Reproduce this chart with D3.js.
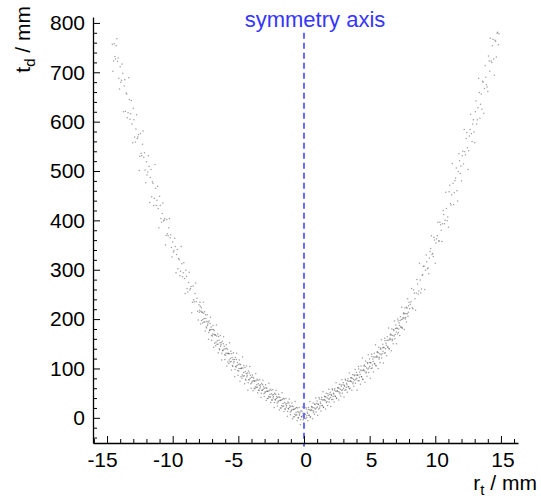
<!DOCTYPE html>
<html lang="en">
<head>
<meta charset="UTF-8">
<title>t_d vs r_t</title>
<script src="https://d3js.org/d3.v7.min.js"></script>
<style>
  body { margin: 0; background: #fff; }
  svg { font-family: "Liberation Sans", Arial, sans-serif; }
</style>
</head>
<body>
<svg width="541" height="498"></svg>
<script>
// points: [r_t (mm), t_d (mm)]
const pointsLeft = [
  [0,7],[-0.05,-4],[-0.1,4],[-0.15,13],[-0.2,2],[-0.25,-4],[-0.3,12],[-0.35,5],[-0.4,11],[-0.45,0],
  [-0.5,20],[-0.55,6],[-0.6,11],[-0.65,19],[-0.7,7],[-0.75,18],[-0.8,2],[-0.85,17],[-0.9,24],[-0.95,16],
  [-1,23],[-1.05,12],[-1.1,21],[-1.15,30],[-1.2,19],[-1.25,13],[-1.3,29],[-1.35,22],[-1.4,28],[-1.45,18],
  [-1.5,38],[-1.55,24],[-1.6,29],[-1.65,37],[-1.7,25],[-1.75,36],[-1.8,20],[-1.85,35],[-1.9,42],[-1.95,34],
  [-2,41],[-2.05,30],[-2.1,39],[-2.15,48],[-2.2,37],[-2.25,31],[-2.3,47],[-2.35,40],[-2.4,46],[-2.45,36],
  [-2.5,56],[-2.55,42],[-2.6,47],[-2.65,55],[-2.7,43],[-2.75,54],[-2.8,39],[-2.85,54],[-2.9,61],[-2.95,53],
  [-3,60],[-3.05,49],[-3.1,58],[-3.15,67],[-3.2,56],[-3.25,50],[-3.3,67],[-3.35,60],[-3.4,66],[-3.45,56],
  [-3.5,76],[-3.55,62],[-3.6,67],[-3.65,75],[-3.7,63],[-3.75,75],[-3.8,60],[-3.85,75],[-3.9,82],[-3.95,74],
  [-4,82],[-4.05,69],[-4.1,80],[-4.15,91],[-4.2,77],[-4.25,71],[-4.3,91],[-4.35,83],[-4.4,90],[-4.45,78],
  [-4.5,102],[-4.55,85],[-4.6,92],[-4.65,101],[-4.7,87],[-4.75,101],[-4.8,83],[-4.85,100],[-4.9,109],[-4.95,100],
  [-5,108],[-5.05,96],[-5.1,106],[-5.15,118],[-5.2,104],[-5.25,98],[-5.3,118],[-5.35,111],[-5.4,118],[-5.45,106],
  [-5.5,130],[-5.55,114],[-5.6,120],[-5.65,130],[-5.7,117],[-5.75,131],[-5.8,113],[-5.85,131],[-5.9,141],[-5.95,131],
  [-6,140],[-6.05,128],[-6.1,139],[-6.15,150],[-6.2,137],[-6.25,131],[-6.3,152],[-6.35,145],[-6.4,152],[-6.45,140],
  [-6.5,165],[-6.55,149],[-6.6,156],[-6.65,166],[-6.7,153],[-6.75,168],[-6.8,151],[-6.85,169],[-6.9,179],[-6.95,170],
  [-7,179],[-7.05,167],[-7.1,179],[-7.15,191],[-7.2,178],[-7.25,173],[-7.3,194],[-7.35,187],[-7.4,195],[-7.45,184],
  [-7.5,209],[-7.55,194],[-7.6,201],[-7.65,212],[-7.7,199],[-7.75,214],[-7.8,197],[-7.85,216],[-7.9,226],[-7.95,218],
  [-8,229],[-8.1,216],[-8.2,235],[-8.3,252],[-8.4,239],[-8.5,234],[-8.6,266],[-8.7,259],[-8.8,274],[-8.9,262],
  [-9,299],[-9.1,282],[-9.2,294],[-9.3,312],[-9.4,297],[-9.5,320],[-9.6,302],[-9.7,331],[-9.8,347],[-9.9,339],
  [-10,356],[-10.1,345],[-10.2,365],[-10.3,385],[-10.4,373],[-10.5,370],[-10.6,404],[-10.7,399],[-10.8,414],[-10.9,404],
  [-11,449],[-11.1,424],[-11.2,441],[-11.3,465],[-11.4,445],[-11.5,475],[-11.6,448],[-11.7,487],[-11.8,509],[-11.9,498],
  [-12,519],[-12.1,502],[-12.2,528],[-12.3,554],[-12.4,536],[-12.5,530],[-12.6,574],[-12.7,566],[-12.8,585],[-12.9,569],
  [-13,627],[-13.1,595],[-13.2,616],[-13.3,645],[-13.4,618],[-13.5,656],[-13.6,621],[-13.7,672],[-13.8,698],[-13.9,684],
  [-14,711],[-14.1,688],[-14.2,722],[-14.3,754],[-14.4,732],[-14.5,723],[-14.6,757]
];
const pointsLeft2 = [
  [-0.025,-11],[-0.075,9],[-0.125,22],[-0.175,2],[-0.225,15],[-0.275,-14],[-0.325,8],[-0.375,21],[-0.425,0],[-0.475,13],
  [-0.525,-6],[-0.575,21],[-0.625,5],[-0.675,33],[-0.725,2],[-0.775,17],[-0.825,23],[-0.875,-2],[-0.925,30],[-0.975,14],
  [-1.025,6],[-1.075,25],[-1.125,38],[-1.175,18],[-1.225,32],[-1.275,3],[-1.325,25],[-1.375,39],[-1.425,18],[-1.475,31],
  [-1.525,13],[-1.575,39],[-1.625,23],[-1.675,51],[-1.725,20],[-1.775,35],[-1.825,41],[-1.875,16],[-1.925,48],[-1.975,32],
  [-2.025,24],[-2.075,43],[-2.125,56],[-2.175,36],[-2.225,50],[-2.275,21],[-2.325,43],[-2.375,57],[-2.425,36],[-2.475,49],
  [-2.525,31],[-2.575,58],[-2.625,42],[-2.675,70],[-2.725,39],[-2.775,54],[-2.825,60],[-2.875,35],[-2.925,67],[-2.975,51],
  [-3.025,43],[-3.075,63],[-3.125,76],[-3.175,56],[-3.225,70],[-3.275,41],[-3.325,63],[-3.375,77],[-3.425,56],[-3.475,69],
  [-3.525,51],[-3.575,78],[-3.625,62],[-3.675,90],[-3.725,59],[-3.775,74],[-3.825,80],[-3.875,55],[-3.925,87],[-3.975,71],
  [-4.025,60],[-4.075,86],[-4.125,104],[-4.175,77],[-4.225,95],[-4.275,56],[-4.325,86],[-4.375,105],[-4.425,76],[-4.475,94],
  [-4.525,69],[-4.575,106],[-4.625,84],[-4.675,123],[-4.725,80],[-4.775,100],[-4.825,108],[-4.875,74],[-4.925,117],[-4.975,95],
  [-5.025,86],[-5.075,112],[-5.125,131],[-5.175,103],[-5.225,122],[-5.275,83],[-5.325,114],[-5.375,132],[-5.425,104],[-5.475,122],
  [-5.525,97],[-5.575,135],[-5.625,113],[-5.675,152],[-5.725,110],[-5.775,130],[-5.825,139],[-5.875,105],[-5.925,148],[-5.975,127],
  [-6.025,118],[-6.075,145],[-6.125,164],[-6.175,136],[-6.225,155],[-6.275,117],[-6.325,148],[-6.375,167],[-6.425,138],[-6.475,157],
  [-6.525,132],[-6.575,170],[-6.625,149],[-6.675,188],[-6.725,146],[-6.775,168],[-6.825,177],[-6.875,143],[-6.925,187],[-6.975,166],
  [-7.025,157],[-7.075,184],[-7.125,204],[-7.175,177],[-7.225,196],[-7.275,159],[-7.325,190],[-7.375,209],[-7.425,182],[-7.475,201],
  [-7.525,176],[-7.575,215],[-7.625,194],[-7.675,234],[-7.725,192],[-7.775,214],[-7.825,223],[-7.875,190],[-7.925,234],[-7.975,214],
  [-8.05,198],[-8.15,242],[-8.25,273],[-8.35,235],[-8.45,267],[-8.55,213],[-8.65,262],[-8.75,295],[-8.85,255],[-8.95,287],
  [-9.05,252],[-9.15,314],[-9.25,286],[-9.35,347],[-9.45,288],[-9.55,323],[-9.65,341],[-9.75,294],[-9.85,364],[-9.95,336],
  [-10.05,326],[-10.15,371],[-10.25,404],[-10.35,369],[-10.45,402],[-10.55,350],[-10.65,401],[-10.75,435],[-10.85,396],[-10.95,430],
  [-11.05,385],[-11.15,469],[-11.25,430],[-11.35,513],[-11.45,430],[-11.55,478],[-11.65,503],[-11.75,436],[-11.85,531],[-11.95,492],
  [-12.05,476],[-12.15,537],[-12.25,581],[-12.35,531],[-12.45,576],[-12.55,501],[-12.65,569],[-12.75,614],[-12.85,559],[-12.95,604],
  [-13.05,557],[-13.15,643],[-13.25,605],[-13.35,689],[-13.45,608],[-13.55,658],[-13.65,685],[-13.75,620],[-13.85,717],[-13.95,680],
  [-14.05,666],[-14.15,729],[-14.25,768],[-14.35,727],[-14.45,758],[-14.55,702]
];
const pointsRight = [
  [0.02,2],[0.07,8],[0.12,-2],[0.17,18],[0.22,4],[0.27,9],[0.32,17],[0.37,5],[0.42,16],[0.47,1],
  [0.52,15],[0.57,22],[0.62,15],[0.67,21],[0.72,11],[0.77,20],[0.82,28],[0.87,18],[0.92,12],[0.97,29],
  [1.02,22],[1.07,28],[1.12,18],[1.17,38],[1.22,24],[1.27,29],[1.32,37],[1.37,25],[1.42,36],[1.47,21],
  [1.52,36],[1.57,43],[1.62,35],[1.67,42],[1.72,31],[1.77,40],[1.82,49],[1.87,38],[1.92,32],[1.97,48],
  [2.02,41],[2.07,47],[2.12,37],[2.17,57],[2.22,43],[2.27,48],[2.32,56],[2.37,44],[2.42,54],[2.47,39],
  [2.52,54],[2.57,61],[2.62,53],[2.67,60],[2.72,49],[2.77,58],[2.82,67],[2.87,56],[2.92,50],[2.97,67],
  [3.02,60],[3.07,66],[3.12,56],[3.17,76],[3.22,62],[3.27,67],[3.32,75],[3.37,63],[3.42,74],[3.47,59],
  [3.52,74],[3.57,81],[3.62,73],[3.67,80],[3.72,69],[3.77,78],[3.82,87],[3.87,76],[3.92,70],[3.97,87],
  [4.02,80],[4.07,87],[4.12,75],[4.17,99],[4.22,82],[4.27,88],[4.32,97],[4.37,83],[4.42,96],[4.47,78],
  [4.52,96],[4.57,105],[4.62,95],[4.67,104],[4.72,91],[4.77,101],[4.82,112],[4.87,99],[4.92,92],[4.97,112],
  [5.02,104],[5.07,112],[5.12,100],[5.17,124],[5.22,107],[5.27,114],[5.32,123],[5.37,110],[5.42,123],[5.47,106],
  [5.52,123],[5.57,133],[5.62,123],[5.67,132],[5.72,119],[5.77,130],[5.82,141],[5.87,128],[5.92,121],[5.97,142],
  [6.02,135],[6.07,143],[6.12,131],[6.17,156],[6.22,140],[6.27,147],[6.32,157],[6.37,144],[6.42,157],[6.47,140],
  [6.52,158],[6.57,168],[6.62,159],[6.67,168],[6.72,156],[6.77,167],[6.82,179],[6.87,166],[6.92,160],[6.97,181],
  [7.02,174],[7.07,182],[7.12,170],[7.17,196],[7.22,180],[7.27,187],[7.32,197],[7.37,184],[7.42,199],[7.47,182],
  [7.52,200],[7.57,211],[7.62,202],[7.67,211],[7.72,200],[7.77,211],[7.82,224],[7.87,211],[7.92,206],[7.97,227],
  [8.05,221],[8.15,235],[8.25,223],[8.35,259],[8.45,241],[8.55,253],[8.65,271],[8.75,257],[8.85,279],[8.95,261],
  [9.05,290],[9.15,307],[9.25,299],[9.35,316],[9.45,304],[9.55,324],[9.65,343],[9.75,331],[9.85,327],[9.95,360],
  [10.05,354],[10.15,369],[10.25,358],[10.35,396],[10.45,380],[10.55,393],[10.65,412],[10.75,400],[10.85,424],[10.95,407],
  [11.05,458],[11.15,434],[11.25,452],[11.35,475],[11.45,456],[11.55,486],[11.65,460],[11.75,499],[11.85,521],[11.95,510],
  [12.05,531],[12.15,514],[12.25,539],[12.35,566],[12.45,547],[12.55,541],[12.65,584],[12.75,576],[12.85,595],[12.95,579],
  [13.05,620],[13.15,595],[13.25,628],[13.35,659],[13.45,635],[13.55,625],[13.65,680],[13.75,667],[13.85,690],[13.95,670],
  [14.05,733],[14.15,702],[14.25,723],[14.35,754],[14.45,727],[14.55,765],[14.65,731],[14.75,781],[14.85,778]
];
const pointsRight2 = [
  [0.045,-15],[0.095,7],[0.145,21],[0.195,0],[0.245,12],[0.295,-6],[0.345,21],[0.395,5],[0.445,33],[0.495,2],
  [0.545,17],[0.595,23],[0.645,-2],[0.695,30],[0.745,14],[0.795,7],[0.845,27],[0.895,40],[0.945,20],[0.995,34],
  [1.045,5],[1.095,27],[1.145,41],[1.195,20],[1.245,32],[1.295,14],[1.345,41],[1.395,25],[1.445,53],[1.495,22],
  [1.545,37],[1.595,43],[1.645,18],[1.695,50],[1.745,33],[1.795,25],[1.845,45],[1.895,58],[1.945,38],[1.995,52],
  [2.045,23],[2.095,45],[2.145,59],[2.195,37],[2.245,50],[2.295,32],[2.345,59],[2.395,43],[2.445,71],[2.495,40],
  [2.545,55],[2.595,61],[2.645,36],[2.695,68],[2.745,52],[2.795,44],[2.845,64],[2.895,77],[2.945,57],[2.995,71],
  [3.045,42],[3.095,64],[3.145,78],[3.195,57],[3.245,70],[3.295,52],[3.345,79],[3.395,63],[3.445,91],[3.495,60],
  [3.545,75],[3.595,81],[3.645,56],[3.695,88],[3.745,72],[3.795,64],[3.845,85],[3.895,98],[3.945,78],[3.995,92],
  [4.045,56],[4.095,86],[4.145,104],[4.195,75],[4.245,93],[4.295,68],[4.345,105],[4.395,83],[4.445,121],[4.495,78],
  [4.545,98],[4.595,107],[4.645,72],[4.695,115],[4.745,93],[4.795,84],[4.845,110],[4.895,128],[4.945,101],[4.995,119],
  [5.045,80],[5.095,111],[5.145,129],[5.195,101],[5.245,119],[5.295,93],[5.345,131],[5.395,109],[5.445,148],[5.495,105],
  [5.545,125],[5.595,134],[5.645,100],[5.695,143],[5.745,122],[5.795,112],[5.845,139],[5.895,158],[5.945,130],[5.995,149],
  [6.045,111],[6.095,142],[6.145,161],[6.195,132],[6.245,151],[6.295,126],[6.345,164],[6.395,143],[6.445,182],[6.495,140],
  [6.545,161],[6.595,170],[6.645,136],[6.695,180],[6.745,159],[6.795,150],[6.845,177],[6.895,196],[6.945,169],[6.995,188],
  [7.045,150],[7.095,181],[7.145,200],[7.195,173],[7.245,192],[7.295,167],[7.345,205],[7.395,184],[7.445,224],[7.495,182],
  [7.545,203],[7.595,213],[7.645,179],[7.695,223],[7.745,203],[7.795,194],[7.845,222],[7.895,241],[7.945,214],[7.995,234],
  [8.1,230],[8.2,262],[8.3,221],[8.4,253],[8.5,218],[8.6,280],[8.7,251],[8.8,313],[8.9,253],
  [9,289],[9.1,307],[9.2,260],[9.3,330],[9.4,302],[9.5,292],[9.6,337],[9.7,369],[9.8,333],[9.9,366],
  [10,313],[10.1,363],[10.2,396],[10.3,358],[10.4,391],[10.5,357],[10.6,420],[10.7,393],[10.8,457],[10.9,399],
  [11,386],[11.1,471],[11.2,431],[11.3,515],[11.4,432],[11.5,481],[11.6,506],[11.7,439],[11.8,535],[11.9,495],
  [12,480],[12.1,540],[12.2,584],[12.3,533],[12.4,578],[12.5,503],[12.6,571],[12.7,615],[12.8,560],[12.9,604],
  [13,557],[13.1,642],[13.2,604],[13.3,688],[13.4,607],[13.5,656],[13.6,682],[13.7,617],[13.8,713],[13.9,675],
  [14,661],[14.1,723],[14.2,769],[14.3,720],[14.4,767],[14.5,694],[14.6,763],[14.7,779],[14.8,756]
];

const xMajor = [-15, -10, -5, 0, 5, 10, 15];
const xMinor = [-16, -14, -13, -12, -11, -9, -8, -7, -6, -4, -3, -2, -1, 1, 2, 3, 4, 6, 7, 8, 9, 11, 12, 13, 14, 16];
const yMajor = [0, 100, 200, 300, 400, 500, 600, 700, 800];
const yMinor = [-40, -20, 20, 40, 60, 80, 120, 140, 160, 180, 220, 240, 260, 280, 320, 340, 360, 380,
  420, 440, 460, 480, 520, 540, 560, 580, 620, 640, 660, 680, 720, 740, 760, 780];
const symmetryLine = [780, -58];   // t_d range of the dashed line at r_t = 0

const font = '"Liberation Sans", Arial, sans-serif';

const x = d3.scaleLinear().domain([-16.07, 16.3]).range([93, 518]);
const y = d3.scaleLinear().domain([-51, 812]).range([443, 17]);

const svg = d3.select("svg");

// scatter
svg.append("g")
  .selectAll("circle")
  .data(pointsLeft.concat(pointsLeft2, pointsRight, pointsRight2))
  .join("circle")
  .attr("cx", d => x(d[0]))
  .attr("cy", d => y(d[1]))
  .attr("r", 0.75)
  .attr("fill", "#000")
  .attr("fill-opacity", 0.38);

// symmetry axis
svg.append("line")
  .attr("x1", x(0)).attr("x2", x(0))
  .attr("y1", y(symmetryLine[0])).attr("y2", y(symmetryLine[1]))
  .attr("stroke", "#6b6bff")
  .attr("stroke-width", 2)
  .attr("stroke-dasharray", "6,4");

svg.append("text")
  .attr("x", 315).attr("y", 27)
  .attr("text-anchor", "middle")
  .attr("font-size", 22)
  .attr("fill", "#3535ff")
  .text("symmetry axis");

// x axis
svg.append("g")
  .attr("transform", "translate(0,443)")
  .call(d3.axisBottom(x).tickValues(xMinor).tickSize(-4).tickSizeOuter(0).tickFormat(""))
  .call(g => g.select(".domain").remove());

const gx = svg.append("g")
  .attr("transform", "translate(0,443)")
  .call(d3.axisBottom(x).tickValues(xMajor).tickSize(-7).tickSizeOuter(0)
    .tickPadding(9).tickFormat(d => String(d)))
  .attr("font-size", 21)
  .attr("font-family", font);
gx.selectAll(".tick text").attr("dx", d => d < 0 ? -5 : 1.5);
gx.select(".domain").attr("stroke-width", 1.3);

// y axis
svg.append("g")
  .attr("transform", "translate(93,0)")
  .call(d3.axisLeft(y).tickValues(yMinor).tickSize(-4).tickSizeOuter(0).tickFormat(""))
  .call(g => g.select(".domain").remove());

const gy = svg.append("g")
  .attr("transform", "translate(93,0)")
  .call(d3.axisLeft(y).tickValues(yMajor).tickSize(-7).tickSizeOuter(0)
    .tickPadding(8).tickFormat(d => String(d)))
  .attr("font-size", 21)
  .attr("font-family", font);
gy.select(".domain").attr("stroke-width", 1.3);

// axis titles
const xt = svg.append("text")
  .attr("x", 537).attr("y", 490)
  .attr("text-anchor", "end")
  .attr("font-size", 21);
xt.append("tspan").text("r");
xt.append("tspan").attr("dy", 5).attr("font-size", 15).text("t");
xt.append("tspan").attr("dy", -5).text(" / mm");

const yt = svg.append("text")
  .attr("transform", "translate(30,6) rotate(-90)")
  .attr("text-anchor", "end")
  .attr("font-size", 21);
yt.append("tspan").text("t");
yt.append("tspan").attr("dy", 5).attr("font-size", 15).text("d");
yt.append("tspan").attr("dy", -5).text(" / mm");
</script>
</body>
</html>
